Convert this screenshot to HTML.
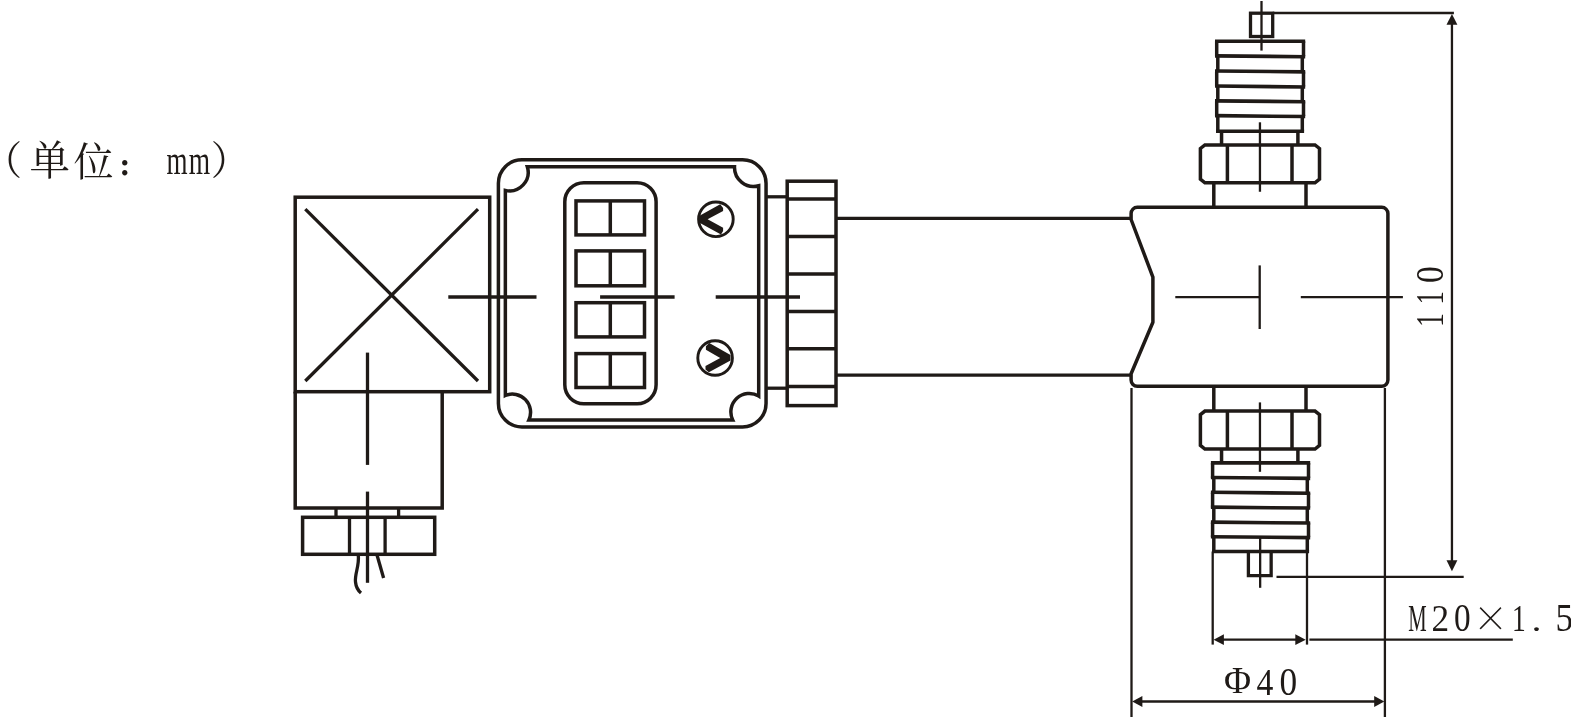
<!DOCTYPE html>
<html lang="zh-CN">
<head>
<meta charset="utf-8">
<title>外形尺寸图</title>
<style>
html,body{margin:0;padding:0;background:#fff;}
body{width:1571px;height:717px;overflow:hidden;}
svg{display:block;will-change:transform;}
svg text{fill:#1f1a17;}
</style>
</head>
<body>
<svg width="1571" height="717" viewBox="0 0 1571 717">
<rect x="0" y="0" width="1571" height="717" fill="#ffffff"/>
<g fill="none" stroke="#1f1a17" stroke-linejoin="miter">
<rect x="295.2" y="197.2" width="194.5" height="194.5" stroke-width="3.5"/>
<line x1="305.3" y1="209.2" x2="478" y2="381" stroke-width="3.3" stroke-linecap="butt"/>
<line x1="478" y1="209.2" x2="305.3" y2="381" stroke-width="3.3" stroke-linecap="butt"/>
<path d="M295.2,391.7 V508.1 H442.2 V391.7" stroke-width="3.5" />
<line x1="336" y1="508" x2="336" y2="517.3" stroke-width="3.3" stroke-linecap="butt"/>
<line x1="398.6" y1="508" x2="398.6" y2="517.3" stroke-width="3.3" stroke-linecap="butt"/>
<rect x="302.6" y="517.3" width="132.1" height="37.0" stroke-width="3.5"/>
<line x1="349.5" y1="517.3" x2="349.5" y2="554.3" stroke-width="3.3" stroke-linecap="butt"/>
<line x1="385.1" y1="517.3" x2="385.1" y2="554.3" stroke-width="3.3" stroke-linecap="butt"/>
<path d="M358.3,555 C359.5,566 354.5,574 355.5,582 C356,587 358,590.5 361,593" stroke-width="3.3" />
<path d="M377,555 L383.6,578" stroke-width="3.3" />
<line x1="367.5" y1="352.6" x2="367.5" y2="464.9" stroke-width="3.3" stroke-linecap="butt"/>
<line x1="367.5" y1="491.6" x2="367.5" y2="582.8" stroke-width="3.3" stroke-linecap="butt"/>
<line x1="448.3" y1="297" x2="536.5" y2="297" stroke-width="3.3" stroke-linecap="butt"/>
<line x1="600.1" y1="297" x2="674.6" y2="297" stroke-width="3.3" stroke-linecap="butt"/>
<line x1="715.7" y1="297" x2="800" y2="297" stroke-width="3.3" stroke-linecap="butt"/>
<rect x="498.4" y="159.8" width="267.65" height="267.1" rx="23.5" ry="23.5" stroke-width="3.5"/>
<path d="M505.35,190.4 A18.6,18.6 0 0 0 527.3,166.75 H734.5 A19,19 0 0 0 758.7,185.7 V396.1 A18.4,18.4 0 0 0 732.7,419.9 H528.9 A18.2,18.2 0 0 0 505.35,395.5 Z" stroke-width="3.5" />
<rect x="564.8" y="182.7" width="91.3" height="221.1" rx="19" ry="19" stroke-width="3.5"/>
<rect x="576" y="200.9" width="68.5" height="34.0" stroke-width="3.5"/>
<line x1="610.3" y1="200.9" x2="610.3" y2="234.9" stroke-width="3.5" stroke-linecap="butt"/>
<rect x="576" y="250.9" width="68.5" height="34.9" stroke-width="3.5"/>
<line x1="610.3" y1="250.9" x2="610.3" y2="285.8" stroke-width="3.5" stroke-linecap="butt"/>
<rect x="576" y="302.7" width="68.5" height="34.2" stroke-width="3.5"/>
<line x1="610.3" y1="302.7" x2="610.3" y2="336.9" stroke-width="3.5" stroke-linecap="butt"/>
<rect x="576" y="353.6" width="68.5" height="33.9" stroke-width="3.5"/>
<line x1="610.3" y1="353.6" x2="610.3" y2="387.5" stroke-width="3.5" stroke-linecap="butt"/>
<circle cx="715.9" cy="219.3" r="17.3" stroke-width="2.9"/>
<polygon points="700.0,215.6 720.2,204.2 723.1,208 723.1,210.9 707.6,219.3 723.1,227.7 723.1,231 721,234.4 700.0,223.0" fill="#1f1a17" stroke="none"/>
<circle cx="715.1" cy="358" r="17.3" stroke-width="2.9"/>
<polygon points="709.3,343 730.5,355.1 730.5,360.6 708.9,372.3 705.5,369.4 705.5,366 720.2,358.1 705.9,349.7 705.9,346.3" fill="#1f1a17" stroke="none"/>
<line x1="766.2" y1="196.8" x2="787.2" y2="196.8" stroke-width="3.3" stroke-linecap="butt"/>
<line x1="766.2" y1="388.2" x2="787.2" y2="388.2" stroke-width="3.3" stroke-linecap="butt"/>
<rect x="787.2" y="181.2" width="48.8" height="224.4" stroke-width="3.5"/>
<line x1="787.2" y1="199" x2="836" y2="199" stroke-width="3.5" stroke-linecap="butt"/>
<line x1="787.2" y1="236.5" x2="836" y2="236.5" stroke-width="3.5" stroke-linecap="butt"/>
<line x1="787.2" y1="273.9" x2="836" y2="273.9" stroke-width="3.5" stroke-linecap="butt"/>
<line x1="787.2" y1="311.5" x2="836" y2="311.5" stroke-width="3.5" stroke-linecap="butt"/>
<line x1="787.2" y1="348.7" x2="836" y2="348.7" stroke-width="3.5" stroke-linecap="butt"/>
<line x1="787.2" y1="386.6" x2="836" y2="386.6" stroke-width="3.5" stroke-linecap="butt"/>
<line x1="836" y1="218.4" x2="1131" y2="218.4" stroke-width="3.3" stroke-linecap="butt"/>
<line x1="836" y1="375.2" x2="1131" y2="375.2" stroke-width="3.3" stroke-linecap="butt"/>
<path d="M1131.1,219.5 V213.5 A6.2,6.2 0 0 1 1137.3,207.3 H1381.7 A6.2,6.2 0 0 1 1387.9,213.5 V380.1 A6.2,6.2 0 0 1 1381.7,386.3 H1137.3 A6.2,6.2 0 0 1 1131.1,380.1 V373.8 L1152.9,322.3 V277.1 Z" stroke-width="3.5" stroke-linejoin="round"/>
<line x1="1175.3" y1="297.2" x2="1259" y2="297.2" stroke-width="2.3" stroke-linecap="butt"/>
<line x1="1300.8" y1="297.2" x2="1402.9" y2="297.2" stroke-width="2.3" stroke-linecap="butt"/>
<line x1="1259.7" y1="265.4" x2="1259.7" y2="329" stroke-width="2.3" stroke-linecap="butt"/>
<rect x="1250.5" y="13.2" width="22.2" height="23.3" stroke-width="3.3"/>
<line x1="1216.7" y1="41.2" x2="1216.7" y2="56.3" stroke-width="3.5" stroke-linecap="butt"/>
<line x1="1303.5" y1="41.2" x2="1303.5" y2="56.3" stroke-width="3.5" stroke-linecap="butt"/>
<line x1="1217.8" y1="56.3" x2="1217.8" y2="71.45" stroke-width="3.5" stroke-linecap="butt"/>
<line x1="1302.3" y1="56.3" x2="1302.3" y2="71.45" stroke-width="3.5" stroke-linecap="butt"/>
<line x1="1216.7" y1="71.45" x2="1216.7" y2="86.5" stroke-width="3.5" stroke-linecap="butt"/>
<line x1="1303.5" y1="71.45" x2="1303.5" y2="86.5" stroke-width="3.5" stroke-linecap="butt"/>
<line x1="1217.8" y1="86.5" x2="1217.8" y2="101.3" stroke-width="3.5" stroke-linecap="butt"/>
<line x1="1302.3" y1="86.5" x2="1302.3" y2="101.3" stroke-width="3.5" stroke-linecap="butt"/>
<line x1="1216.7" y1="101.3" x2="1216.7" y2="116.1" stroke-width="3.5" stroke-linecap="butt"/>
<line x1="1303.5" y1="101.3" x2="1303.5" y2="116.1" stroke-width="3.5" stroke-linecap="butt"/>
<line x1="1217.8" y1="116.1" x2="1217.8" y2="131.2" stroke-width="3.5" stroke-linecap="butt"/>
<line x1="1302.3" y1="116.1" x2="1302.3" y2="131.2" stroke-width="3.5" stroke-linecap="butt"/>
<line x1="1215.0" y1="41.2" x2="1305.2" y2="41.2" stroke-width="3.6" stroke-linecap="butt"/>
<line x1="1215.0" y1="55.849999999999994" x2="1305.2" y2="56.75" stroke-width="3.6" stroke-linecap="butt"/>
<line x1="1215.0" y1="71.0" x2="1305.2" y2="71.9" stroke-width="3.6" stroke-linecap="butt"/>
<line x1="1215.0" y1="86.05" x2="1305.2" y2="86.95" stroke-width="3.6" stroke-linecap="butt"/>
<line x1="1215.0" y1="100.85" x2="1305.2" y2="101.75" stroke-width="3.6" stroke-linecap="butt"/>
<line x1="1215.0" y1="115.64999999999999" x2="1305.2" y2="116.55" stroke-width="3.6" stroke-linecap="butt"/>
<line x1="1216.0" y1="131.2" x2="1304.1" y2="131.2" stroke-width="3.6" stroke-linecap="butt"/>
<line x1="1221.55" y1="131.2" x2="1221.55" y2="144.9" stroke-width="3.5" stroke-linecap="butt"/>
<line x1="1297.9" y1="131.2" x2="1297.9" y2="144.9" stroke-width="3.5" stroke-linecap="butt"/>
<path d="M1204.9,144.9 H1315.0 L1319.5,148.5 V179.20000000000002 L1315.0,182.8 H1204.9 L1200.4,179.20000000000002 V148.5 Z" stroke-width="3.5" />
<line x1="1227.4" y1="144.9" x2="1227.4" y2="182.8" stroke-width="3.5" stroke-linecap="butt"/>
<line x1="1292" y1="144.9" x2="1292" y2="182.8" stroke-width="3.5" stroke-linecap="butt"/>
<line x1="1213.8" y1="182.8" x2="1213.8" y2="207.3" stroke-width="3.5" stroke-linecap="butt"/>
<line x1="1306" y1="182.8" x2="1306" y2="207.3" stroke-width="3.5" stroke-linecap="butt"/>
<line x1="1261.5" y1="1" x2="1261.5" y2="50.6" stroke-width="2.3" stroke-linecap="butt"/>
<line x1="1259.95" y1="122.3" x2="1259.95" y2="191.75" stroke-width="2.3" stroke-linecap="butt"/>
<line x1="1213.8" y1="386.3" x2="1213.8" y2="411.1" stroke-width="3.5" stroke-linecap="butt"/>
<line x1="1306" y1="386.3" x2="1306" y2="411.1" stroke-width="3.5" stroke-linecap="butt"/>
<path d="M1204.9,411.1 H1315.0 L1319.5,414.70000000000005 V445.4 L1315.0,449.0 H1204.9 L1200.4,445.4 V414.70000000000005 Z" stroke-width="3.5" />
<line x1="1227.4" y1="411.1" x2="1227.4" y2="449" stroke-width="3.5" stroke-linecap="butt"/>
<line x1="1292" y1="411.1" x2="1292" y2="449" stroke-width="3.5" stroke-linecap="butt"/>
<line x1="1221.55" y1="449" x2="1221.55" y2="462.9" stroke-width="3.5" stroke-linecap="butt"/>
<line x1="1297.9" y1="449" x2="1297.9" y2="462.9" stroke-width="3.5" stroke-linecap="butt"/>
<line x1="1212.6" y1="462.9" x2="1212.6" y2="477.9" stroke-width="3.5" stroke-linecap="butt"/>
<line x1="1308.5" y1="462.9" x2="1308.5" y2="477.9" stroke-width="3.5" stroke-linecap="butt"/>
<line x1="1213.8" y1="477.9" x2="1213.8" y2="492.75" stroke-width="3.5" stroke-linecap="butt"/>
<line x1="1307.3" y1="477.9" x2="1307.3" y2="492.75" stroke-width="3.5" stroke-linecap="butt"/>
<line x1="1212.6" y1="492.75" x2="1212.6" y2="507.6" stroke-width="3.5" stroke-linecap="butt"/>
<line x1="1308.5" y1="492.75" x2="1308.5" y2="507.6" stroke-width="3.5" stroke-linecap="butt"/>
<line x1="1213.8" y1="507.6" x2="1213.8" y2="522.6" stroke-width="3.5" stroke-linecap="butt"/>
<line x1="1307.3" y1="507.6" x2="1307.3" y2="522.6" stroke-width="3.5" stroke-linecap="butt"/>
<line x1="1212.6" y1="522.6" x2="1212.6" y2="537.2" stroke-width="3.5" stroke-linecap="butt"/>
<line x1="1308.5" y1="522.6" x2="1308.5" y2="537.2" stroke-width="3.5" stroke-linecap="butt"/>
<line x1="1213.8" y1="537.2" x2="1213.8" y2="551.5" stroke-width="3.5" stroke-linecap="butt"/>
<line x1="1307.3" y1="537.2" x2="1307.3" y2="551.5" stroke-width="3.5" stroke-linecap="butt"/>
<line x1="1210.9" y1="462.9" x2="1310.2" y2="462.9" stroke-width="3.6" stroke-linecap="butt"/>
<line x1="1210.9" y1="477.45" x2="1310.2" y2="478.34999999999997" stroke-width="3.6" stroke-linecap="butt"/>
<line x1="1210.9" y1="492.3" x2="1310.2" y2="493.2" stroke-width="3.6" stroke-linecap="butt"/>
<line x1="1210.9" y1="507.15000000000003" x2="1310.2" y2="508.05" stroke-width="3.6" stroke-linecap="butt"/>
<line x1="1210.9" y1="522.15" x2="1310.2" y2="523.0500000000001" stroke-width="3.6" stroke-linecap="butt"/>
<line x1="1210.9" y1="536.75" x2="1310.2" y2="537.6500000000001" stroke-width="3.6" stroke-linecap="butt"/>
<line x1="1212.0" y1="551.5" x2="1309.1" y2="551.5" stroke-width="3.6" stroke-linecap="butt"/>
<path d="M1248.4,551.5 V575.55 H1271.15 V551.5" stroke-width="3.3" />
<line x1="1259.95" y1="402.4" x2="1259.95" y2="471.8" stroke-width="2.3" stroke-linecap="butt"/>
<line x1="1260.15" y1="538" x2="1260.15" y2="587.8" stroke-width="2.3" stroke-linecap="butt"/>
<line x1="1272.7" y1="13.0" x2="1453.9" y2="13.0" stroke-width="2.3" stroke-linecap="butt"/>
<line x1="1451.95" y1="20" x2="1451.95" y2="565" stroke-width="2.3" stroke-linecap="butt"/>
<polygon points="1451.95,14.0 1457.4,24.8 1446.5,24.8" fill="#1f1a17" stroke="none"/>
<polygon points="1451.95,571.2 1457.4,560.3 1446.5,560.3" fill="#1f1a17" stroke="none"/>
<line x1="1276.5" y1="576.9" x2="1463.7" y2="576.9" stroke-width="2.3" stroke-linecap="butt"/>
<line x1="1212.7" y1="551.5" x2="1212.7" y2="644.6" stroke-width="2.3" stroke-linecap="butt"/>
<line x1="1307" y1="551.5" x2="1307" y2="644.6" stroke-width="2.3" stroke-linecap="butt"/>
<line x1="1220" y1="639.7" x2="1300" y2="639.7" stroke-width="2.3" stroke-linecap="butt"/>
<polygon points="1213.6,639.7 1223.9,634.3 1223.9,645.1" fill="#1f1a17" stroke="none"/>
<polygon points="1305.7,639.7 1295.3,634.3 1295.3,645.1" fill="#1f1a17" stroke="none"/>
<line x1="1309.4" y1="639.7" x2="1512.8" y2="639.7" stroke-width="2.3" stroke-linecap="butt"/>
<line x1="1131.5" y1="388" x2="1131.5" y2="717" stroke-width="2.3" stroke-linecap="butt"/>
<line x1="1384.9" y1="388" x2="1384.9" y2="717" stroke-width="2.3" stroke-linecap="butt"/>
<line x1="1140" y1="701.5" x2="1376" y2="701.5" stroke-width="2.3" stroke-linecap="butt"/>
<polygon points="1132.2,701.5 1142.4,696.0 1142.4,707.0" fill="#1f1a17" stroke="none"/>
<polygon points="1384.3,701.5 1374.2,696.0 1374.2,707.0" fill="#1f1a17" stroke="none"/>
</g>
<g font-family="'Liberation Serif','Noto Serif CJK SC',serif" fill="#1f1a17" stroke="none">
<g class="lbl-unit"><text transform="translate(-16.8,175.3) scale(0.983,1)" font-size="39.6">（</text><text transform="translate(29.6,175.0)" font-size="40.5">单</text><text transform="translate(73.4,175.6)" font-size="40.1">位</text><text transform="translate(117.2,176.3)" font-size="26.3" font-weight="900">：</text><text transform="translate(166.4,174.4) scale(0.68,1)" font-size="39.8">m</text><text transform="translate(188.7,174.4) scale(0.69,1)" font-size="39.8">m</text><text transform="translate(210.8,175.3) scale(0.983,1)" font-size="39.6">）</text></g>
<g class="lbl-phi"><text transform="translate(1223.9,693.4) scale(0.999,1)" font-size="37.1">Φ</text><text transform="translate(1256.5,695.0) scale(0.894,1)" font-size="37.7">4</text><text transform="translate(1279.4,695.2) scale(0.897,1)" font-size="39.4">0</text></g>
<g class="lbl-thread"><text transform="translate(1408.3,630.6) scale(0.538,1)" font-size="38.5">M</text><text transform="translate(1431.4,630.6) scale(0.916,1)" font-size="38.5">2</text><text transform="translate(1454.1,631.2) scale(0.843,1)" font-size="39.5">0</text><text transform="translate(1474.0,637.5)" font-size="58.5" stroke="#fff" stroke-width="1.3">×</text><text transform="translate(1512.1,630.6) scale(0.714,1)" font-size="38.5">1</text><text transform="translate(1531.6,630.6) scale(1.25,1)" font-size="32.0">.</text><text transform="translate(1555.5,631.3) scale(0.903,1)" font-size="39.1">5</text></g>
<g class="lbl-len"><text transform="translate(1443.0,327.0) rotate(-90) scale(0.717,1)" font-size="39.1">1</text><text transform="translate(1443.0,304.4) rotate(-90) scale(0.682,1)" font-size="39.1">1</text><text transform="translate(1442.8,283.0) rotate(-90) scale(0.849,1)" font-size="39.5">0</text></g>
</g>
</svg>
</body>
</html>
